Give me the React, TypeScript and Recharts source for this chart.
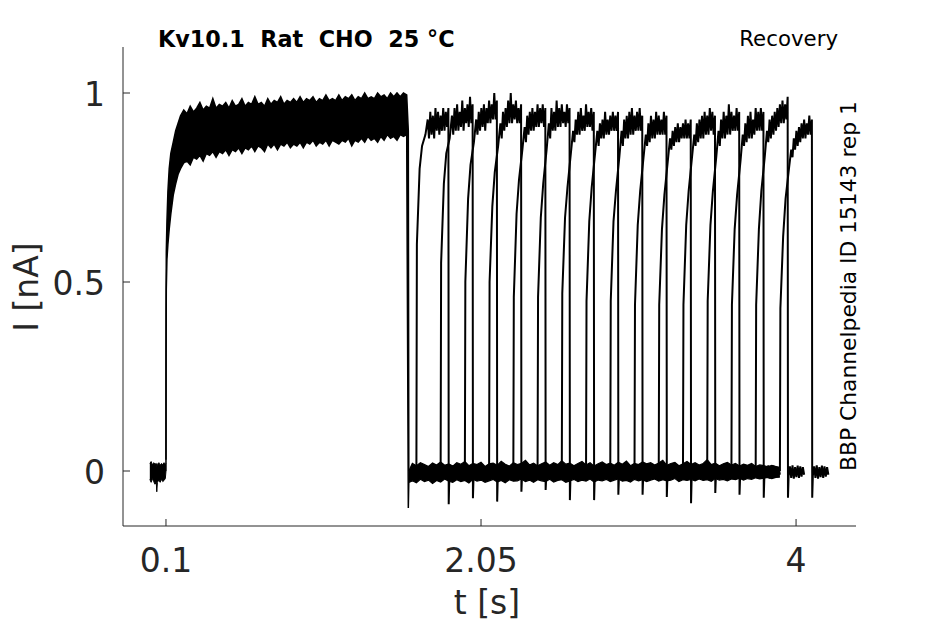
import React from 'react';
import { ComposedChart, Line, Area, XAxis, YAxis } from 'recharts';

const xTicks = [0.1, 2.05, 4];
const yTicks = [0, 0.5, 1];

// holding current before the first step (all sweeps overlaid)
const holdT = [0, 0.008, 0.016, 0.024, 0.032, 0.04, 0.043, 0.047, 0.056, 0.064, 0.072, 0.08, 0.088, 0.096, 0.1];
const holdLo = [-0.022, -0.03, -0.02, -0.028, -0.035, -0.03, -0.055, -0.03, -0.024, -0.03, -0.022, -0.028, -0.025, -0.02, 0];
const holdHi = [0.02, 0.025, 0.016, 0.022, 0.018, 0.02, 0.012, 0.018, 0.022, 0.015, 0.02, 0.017, 0.022, 0.018, 0.02];

// first (conditioning) step: activation, then the noise envelope sampled every 20 ms
const riseT = [0.1, 0.1005, 0.102, 0.106, 0.112, 0.12, 0.13, 0.145, 0.16, 0.175];
const riseLo = [0, 0.3, 0.48, 0.56, 0.6, 0.64, 0.68, 0.73, 0.76, 0.785];
const riseHi = [0.03, 0.42, 0.58, 0.66, 0.74, 0.8, 0.84, 0.87, 0.9, 0.92];
const plateauHi = [
  0.94, 0.955, 0.945, 0.965, 0.95, 0.96, 0.975, 0.955, 0.965, 0.96,
  0.985, 0.96, 0.97, 0.965, 0.975, 0.96, 0.98, 0.965, 0.97, 0.985,
  0.965, 0.975, 0.97, 0.99, 0.97, 0.975, 0.965, 0.985, 0.97, 0.98,
  0.975, 0.99, 0.97, 0.98, 0.975, 0.985, 0.975, 0.99, 0.975, 0.985,
  0.98, 0.99, 0.975, 0.985, 0.98, 0.995, 0.98, 0.985, 0.98, 0.995,
  0.98, 0.99, 0.985, 0.995, 0.98, 0.99, 0.985, 1.0, 0.985, 0.99,
  0.985, 1.0, 0.99, 0.995, 0.985, 1.0, 0.99, 1.0, 0.99, 1.0, 0.995,
];
const plateauLo = [
  0.8, 0.815, 0.82, 0.81, 0.83, 0.825, 0.835, 0.82, 0.84, 0.835,
  0.845, 0.83, 0.845, 0.84, 0.85, 0.835, 0.85, 0.845, 0.855, 0.84,
  0.855, 0.85, 0.86, 0.845, 0.86, 0.855, 0.845, 0.865, 0.855, 0.865,
  0.85, 0.865, 0.86, 0.87, 0.855, 0.865, 0.86, 0.87, 0.855, 0.87,
  0.865, 0.875, 0.86, 0.87, 0.865, 0.875, 0.86, 0.875, 0.87, 0.865,
  0.875, 0.87, 0.88, 0.86, 0.875, 0.87, 0.88, 0.87, 0.885, 0.875,
  0.88, 0.87, 0.885, 0.875, 0.89, 0.88, 0.885, 0.875, 0.89, 0.885, 0.89,
];
// end of the first step: jump to the tail current
const offT = [1.6, 1.603];
const offLo = [-0.098, -0.03];
const offHi = [0.9, 0.0];

// holding current between the steps, sampled every 25 ms from 1.625 s
const gapHi = [
  0.0,
  0.02, 0.014, 0.022, 0.017, 0.012, 0.021, 0.016, 0.024, 0.015, 0.019,
  0.013, 0.022, 0.018, 0.025, 0.014, 0.02, 0.017, 0.023, 0.012, 0.019,
  0.021, 0.015, 0.026, 0.018, 0.013, 0.022, 0.017, 0.02, 0.028, 0.016,
  0.021, 0.014, 0.019, 0.024, 0.015, 0.022, 0.017, 0.027, 0.018, 0.021,
  0.014, 0.02, 0.025, 0.016, 0.022, 0.013, 0.019, 0.024, 0.017, 0.021,
  0.015, 0.023, 0.018, 0.026, 0.014, 0.02, 0.017, 0.024, 0.019, 0.022,
  0.016, 0.021, 0.028, 0.015, 0.02, 0.023, 0.014, 0.019, 0.025, 0.017,
  0.022, 0.016, 0.02, 0.03, 0.017, 0.021, 0.014, 0.019, 0.023, 0.016,
  0.02, 0.013, 0.018, 0.015, 0.02, 0.012, 0.016, 0.014, 0.011, 0.015,
  0.012, 0.01,
];
const gapLo = [
  -0.03,
  -0.026, -0.031, -0.022, -0.028, -0.024, -0.033, -0.025, -0.029, -0.021, -0.027,
  -0.03, -0.023, -0.028, -0.025, -0.032, -0.022, -0.027, -0.024, -0.03, -0.026,
  -0.022, -0.029, -0.025, -0.031, -0.023, -0.027, -0.026, -0.021, -0.028, -0.024,
  -0.03, -0.023, -0.026, -0.028, -0.022, -0.029, -0.025, -0.023, -0.03, -0.026,
  -0.022, -0.028, -0.024, -0.027, -0.021, -0.029, -0.024, -0.026, -0.022, -0.028,
  -0.024, -0.021, -0.027, -0.025, -0.029, -0.022, -0.026, -0.023, -0.028, -0.024,
  -0.021, -0.027, -0.023, -0.026, -0.024, -0.02, -0.028, -0.023, -0.025, -0.022,
  -0.026, -0.021, -0.025, -0.023, -0.027, -0.02, -0.024, -0.022, -0.026, -0.021,
  -0.023, -0.019, -0.024, -0.02, -0.022, -0.018, -0.021, -0.019, -0.017, -0.02,
  -0.017, -0.016,
];

// test step of each sweep: start time [s], sample offsets and values [nA]
const step2Start = [1.65, 1.8, 1.95, 2.1, 2.25, 2.4, 2.55, 2.7, 2.85, 3.0, 3.15, 3.3, 3.45, 3.6, 3.75, 3.9];
const step2Off = [0, 0.003, 0.02, 0.035, 0.056, 0.07, 0.078, 0.086, 0.094, 0.102, 0.11, 0.118, 0.126, 0.134, 0.142, 0.15, 0.158, 0.166, 0.174, 0.182, 0.19, 0.198];
const step2Vals = [
  [0, 0.6, 0.8, 0.86, 0.89, 0.93, 0.88, 0.95, 0.89, 0.94, 0.88, 0.96, 0.9, 0.95, 0.89, 0.94, 0.9, 0.96, 0.9, 0.95, 0.91, 0.96],
  [0, 0.55, 0.76, 0.84, 0.88, 0.94, 0.89, 0.96, 0.9, 0.97, 0.9, 0.95, 0.91, 0.98, 0.9, 0.96, 0.92, 0.97, 0.91, 0.99, 0.92, 0.97],
  [0, 0.5, 0.72, 0.81, 0.87, 0.93, 0.89, 0.95, 0.9, 0.96, 0.91, 0.97, 0.9, 0.96, 0.92, 0.98, 0.92, 0.97, 0.93, 1.0, 0.93, 0.98],
  [0, 0.5, 0.7, 0.79, 0.86, 0.92, 0.88, 0.95, 0.9, 0.96, 0.91, 0.98, 0.92, 1.0, 0.92, 0.97, 0.93, 0.98, 0.92, 0.96, 0.92, 0.97],
  [0, 0.46, 0.68, 0.77, 0.85, 0.91, 0.87, 0.94, 0.89, 0.95, 0.9, 0.96, 0.9, 0.95, 0.91, 0.97, 0.91, 0.96, 0.92, 0.97, 0.91, 0.96],
  [0, 0.46, 0.67, 0.76, 0.85, 0.92, 0.88, 0.96, 0.9, 0.95, 0.9, 0.98, 0.91, 0.96, 0.91, 0.97, 0.92, 0.95, 0.91, 0.97, 0.92, 0.96],
  [0, 0.47, 0.67, 0.75, 0.84, 0.9, 0.87, 0.93, 0.89, 0.95, 0.89, 0.96, 0.9, 0.94, 0.9, 0.97, 0.91, 0.95, 0.91, 0.96, 0.9, 0.95],
  [0, 0.45, 0.66, 0.75, 0.84, 0.9, 0.86, 0.92, 0.88, 0.93, 0.88, 0.95, 0.89, 0.93, 0.89, 0.94, 0.9, 0.95, 0.9, 0.94, 0.9, 0.95],
  [0, 0.45, 0.66, 0.74, 0.83, 0.9, 0.86, 0.93, 0.88, 0.94, 0.88, 0.95, 0.89, 0.96, 0.89, 0.94, 0.9, 0.95, 0.9, 0.96, 0.9, 0.94],
  [0, 0.44, 0.65, 0.74, 0.83, 0.89, 0.86, 0.92, 0.87, 0.94, 0.88, 0.93, 0.88, 0.95, 0.89, 0.94, 0.89, 0.93, 0.89, 0.95, 0.89, 0.94],
  [0, 0.44, 0.64, 0.73, 0.82, 0.88, 0.85, 0.9, 0.86, 0.91, 0.87, 0.92, 0.87, 0.91, 0.88, 0.92, 0.88, 0.93, 0.88, 0.92, 0.88, 0.93],
  [0, 0.44, 0.65, 0.74, 0.83, 0.89, 0.86, 0.92, 0.87, 0.93, 0.88, 0.94, 0.88, 0.95, 0.89, 0.94, 0.89, 0.96, 0.9, 0.95, 0.89, 0.94],
  [0, 0.45, 0.65, 0.74, 0.83, 0.9, 0.86, 0.93, 0.88, 0.95, 0.88, 0.94, 0.89, 0.97, 0.89, 0.95, 0.9, 0.94, 0.9, 0.96, 0.9, 0.95],
  [0, 0.44, 0.64, 0.73, 0.82, 0.89, 0.86, 0.92, 0.87, 0.94, 0.88, 0.95, 0.88, 0.93, 0.89, 0.96, 0.9, 0.95, 0.9, 0.96, 0.9, 0.95],
  [0, 0.44, 0.64, 0.74, 0.83, 0.9, 0.87, 0.93, 0.88, 0.94, 0.89, 0.95, 0.9, 0.96, 0.91, 0.97, 0.92, 0.98, 0.92, 0.97, 0.93, 0.99],
  [0, 0.43, 0.62, 0.72, 0.8, 0.85, 0.83, 0.88, 0.85, 0.9, 0.86, 0.91, 0.87, 0.92, 0.88, 0.93, 0.88, 0.92, 0.89, 0.94, 0.89, 0.93],
];
// tail current at the end of each test step, and the holding trace after it
const tailSpike = [-0.088, -0.072, -0.081, -0.055, -0.05, -0.077, -0.077, -0.063, -0.063, -0.069, -0.085, -0.058, -0.063, -0.071, -0.071, -0.071];
const tailOff = [0.204, 0.212, 0.22, 0.228, 0.236, 0.244, 0.252, 0.26, 0.268, 0.276, 0.284, 0.292, 0.3];
const tailVals = [-0.012, 0.012, -0.018, 0.015, -0.02, 0.01, -0.016, 0.014, -0.018, 0.012, -0.015, 0.01, -0.01];

// sample times of the sampled envelopes
const plateauT = plateauHi.map((_, i) => +(0.19 + i * 0.02).toFixed(3));
const gapT = gapHi.map((_, i) => (i === 0 ? 1.603 : +(1.625 + (i - 1) * 0.025).toFixed(3)));

const band = (t: number[], lo: number[], hi: number[]) => t.map((x, i) => ({ t: x, r: [lo[i], hi[i]] }));

const holdData = band(holdT, holdLo, holdHi);
const step1Data = band([...riseT, ...plateauT, ...offT], [...riseLo, ...plateauLo, ...offLo], [...riseHi, ...plateauHi, ...offHi]);
const gapData = band(gapT, gapLo, gapHi);

const sweeps = step2Start.map((t0, k) => [
  ...step2Off.map((o, i) => ({ t: t0 + o, v: step2Vals[k][i] })),
  { t: t0 + 0.2, v: tailSpike[k] },
  ...tailOff.map((o, i) => ({ t: t0 + o, v: tailVals[i] })),
]);

const FONT = 'DejaVu Sans';
const AXIS = '#262626';

const XTick = ({ x, y, payload }: any) => (
  <g>
    <line x1={x} x2={x} y1={y} y2={y - 7} stroke={AXIS} />
    <text x={x} y={y + 46} textAnchor="middle" fontSize={33} fill={AXIS} fontFamily={FONT}>
      {payload.value}
    </text>
  </g>
);

const YTick = ({ x, y, payload }: any) => (
  <g>
    <line x1={x} x2={x + 7} y1={y} y2={y} stroke={AXIS} />
    <text x={x - 18} y={y + 12.5} textAnchor="end" fontSize={33} fill={AXIS} fontFamily={FONT}>
      {payload.value}
    </text>
  </g>
);

export default function App() {
  return (
    <div style={{ position: 'absolute', left: 0, top: 0, width: 945, height: 624, background: '#fff' }}>
      <ComposedChart width={945} height={624} margin={{ top: 47, right: 89, bottom: 68, left: 63 }}>
        <XAxis
          type="number"
          dataKey="t"
          domain={[-0.166, 4.371]}
          allowDataOverflow
          ticks={xTicks}
          interval={0}
          height={30}
          tickSize={0}
          tickMargin={0}
          tickLine={false}
          axisLine={{ stroke: AXIS }}
          tick={(p: any) => <XTick {...p} />}
        />
        <YAxis
          type="number"
          domain={[-0.1455, 1.1217]}
          allowDataOverflow
          ticks={yTicks}
          interval={0}
          width={60}
          tickSize={0}
          tickMargin={0}
          tickLine={false}
          axisLine={{ stroke: AXIS }}
          tick={(p: any) => <YTick {...p} />}
        />
        <Area data={holdData} dataKey="r" type="linear" stroke="#000" strokeWidth={1} fill="#000" fillOpacity={1} dot={false} activeDot={false} isAnimationActive={false} />
        <Area data={step1Data} dataKey="r" type="linear" stroke="#000" strokeWidth={1.5} fill="#000" fillOpacity={1} dot={false} activeDot={false} isAnimationActive={false} />
        <Area data={gapData} dataKey="r" type="linear" stroke="#000" strokeWidth={1.2} fill="#000" fillOpacity={1} dot={false} activeDot={false} isAnimationActive={false} />
        {sweeps.map((d, k) => (
          <Line key={k} data={d} dataKey="v" type="linear" stroke="#000" strokeWidth={2} dot={false} activeDot={false} isAnimationActive={false} />
        ))}
      </ComposedChart>
      <svg width={945} height={624} style={{ position: 'absolute', left: 0, top: 0, pointerEvents: 'none' }}>
        <text x={158} y={47} fontSize={22.3} fontWeight="bold" fill="#000" fontFamily={FONT} style={{ whiteSpace: 'pre' }}>
          {'Kv10.1  Rat  CHO  25 °C'}
        </text>
        <text x={838} y={46} fontSize={21.3} textAnchor="end" fill="#000" fontFamily={FONT}>
          Recovery
        </text>
        <text x={487} y={614} fontSize={33} textAnchor="middle" fill={AXIS} fontFamily={FONT}>
          t [s]
        </text>
        <text x={38} y={287} fontSize={33} textAnchor="middle" fill={AXIS} fontFamily={FONT} transform="rotate(-90 38 287)">
          I [nA]
        </text>
        <text x={856} y={286} fontSize={21.8} textAnchor="middle" fill="#000" fontFamily={FONT} transform="rotate(-90 856 286)">
          BBP Channelpedia ID 15143 rep 1
        </text>
      </svg>
    </div>
  );
}
